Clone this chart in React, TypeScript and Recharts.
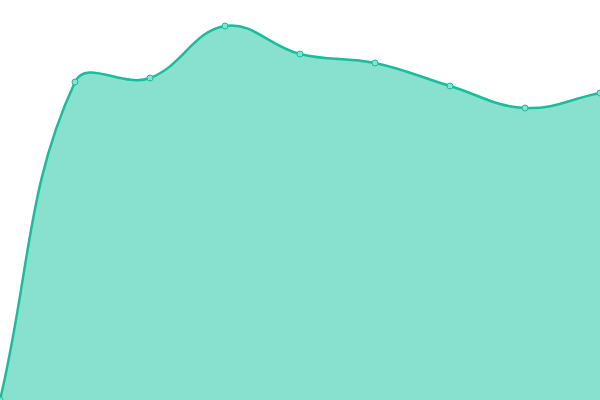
import { AreaChart, Area, XAxis, YAxis } from "recharts";

const labels = ["p0", "p1", "p2", "p3", "p4", "p5", "p6", "p7", "p8"];
const values = [0, 79.5, 80.5, 93.5, 86.5, 84.25, 78.5, 73, 76.75];

const data = labels.map((name, i) => ({ name, value: values[i] }));

const TENSION = 0.4;
const W = 600;
const H = 400;

type Pt = { x: number; y: number };

const clamp = (v: number, lo: number, hi: number) => Math.max(lo, Math.min(hi, v));

// spline like chart.js: control points weighted by the distance to neighbours
function controls(prev: Pt, cur: Pt, next: Pt) {
  const d01 = Math.hypot(cur.x - prev.x, cur.y - prev.y);
  const d12 = Math.hypot(next.x - cur.x, next.y - cur.y);
  let s01 = d01 / (d01 + d12);
  let s12 = d12 / (d01 + d12);
  if (isNaN(s01)) s01 = 0;
  if (isNaN(s12)) s12 = 0;
  const fa = TENSION * s01;
  const fb = TENSION * s12;
  return {
    before: {
      x: clamp(cur.x - fa * (next.x - prev.x), 0, W),
      y: clamp(cur.y - fa * (next.y - prev.y), 0, H),
    },
    after: {
      x: clamp(cur.x + fb * (next.x - prev.x), 0, W),
      y: clamp(cur.y + fb * (next.y - prev.y), 0, H),
    },
  };
}

class SplineCurve {
  _context: any;
  _line: number = NaN;
  _pts: Pt[] = [];
  constructor(context: any) {
    this._context = context;
  }
  areaStart() {
    this._line = 0;
  }
  areaEnd() {
    this._line = NaN;
  }
  lineStart() {
    this._pts = [];
  }
  point(x: number, y: number) {
    this._pts.push({ x: +x, y: +y });
  }
  lineEnd() {
    const pts = this._pts;
    const ctx = this._context;
    if (pts.length) {
      if (this._line) ctx.lineTo(pts[0].x, pts[0].y);
      else ctx.moveTo(pts[0].x, pts[0].y);
      const cps = pts.map((p, i) =>
        controls(pts[Math.max(i - 1, 0)], p, pts[Math.min(i + 1, pts.length - 1)])
      );
      for (let i = 1; i < pts.length; i++) {
        const a = cps[i - 1].after;
        const b = cps[i].before;
        ctx.bezierCurveTo(a.x, a.y, b.x, b.y, pts[i].x, pts[i].y);
      }
    }
    if (this._line || (this._line !== 0 && pts.length === 1)) ctx.closePath();
    this._line = 1 - this._line;
  }
}

const splineFactory: any = (context: any) => new SplineCurve(context);

export default function App() {
  return (
    <div style={{ position: "absolute", top: 0, left: 0, width: W, height: H }}>
      <AreaChart width={W} height={H} data={data} margin={{ top: 0, right: 0, bottom: 0, left: 0 }}>
        <XAxis dataKey="name" hide />
        <YAxis domain={[0, 100]} hide />
        <Area
          type={splineFactory}
          dataKey="value"
          stroke="#1abc9c"
          strokeWidth={2.5}
          fill="#88e0cf"
          fillOpacity={1}
          dot={{ r: 3, fill: "#88e0cf", stroke: "#1abc9c", strokeWidth: 1 }}
          activeDot={false}
          isAnimationActive={false}
        />
      </AreaChart>
    </div>
  );
}
